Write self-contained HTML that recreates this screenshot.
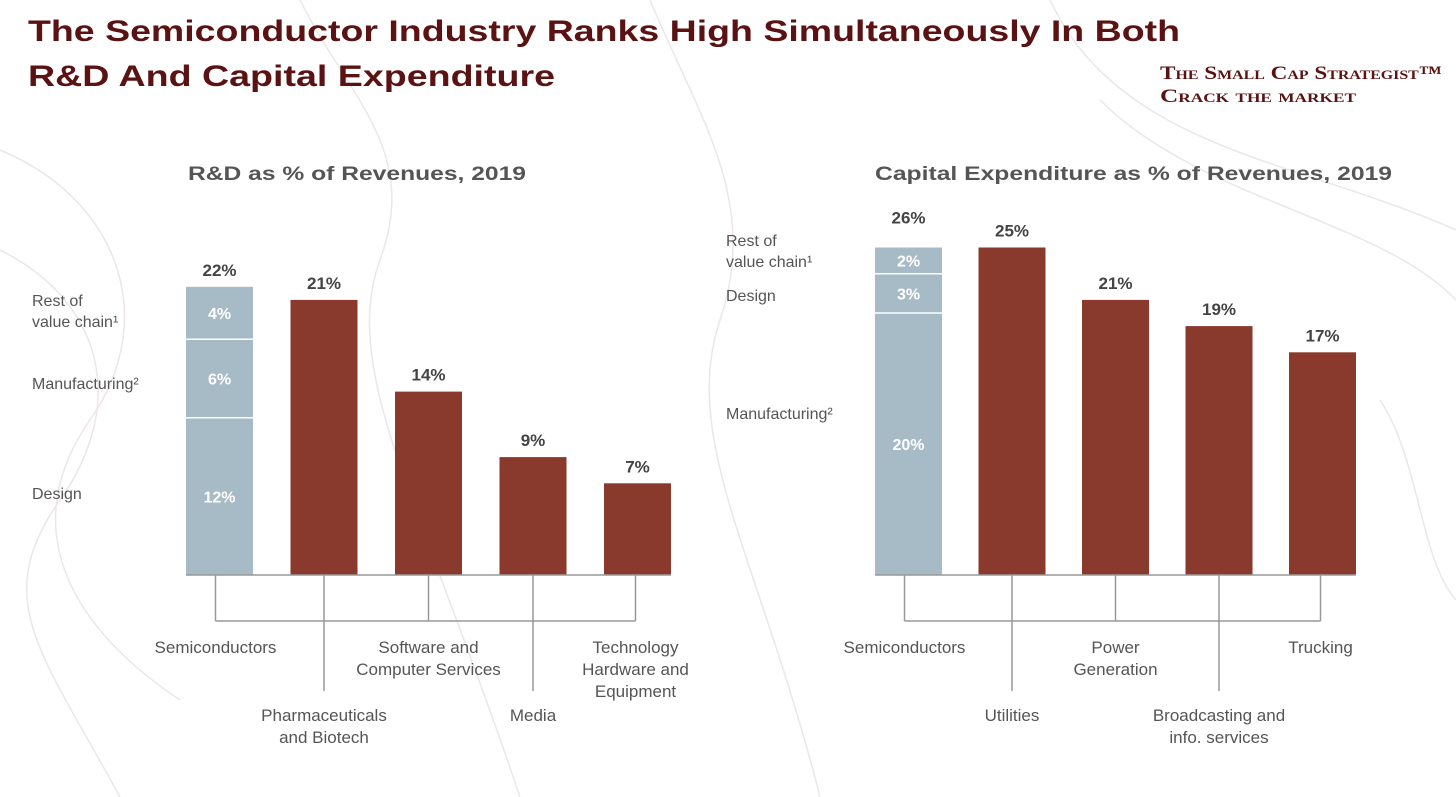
<!DOCTYPE html>
<html><head><meta charset="utf-8">
<style>
body{margin:0;width:1456px;height:797px;background:#fff;overflow:hidden;font-family:"Liberation Sans",sans-serif;}
svg{position:absolute;left:0;top:0}
</style></head>
<body>
<svg width="1456" height="797">
<g fill="none" stroke="#ece6e8" stroke-width="1.5">
<path d="M0 150 C120 200 160 320 90 420 S60 620 180 700"/>
<path d="M0 250 C100 300 130 400 60 500 S40 650 120 797"/>
<path d="M300 0 C350 100 420 150 380 260 S420 500 520 797"/>
<path d="M650 0 C700 120 760 200 720 320 S760 560 820 797"/>
<path d="M1100 100 C1200 200 1380 220 1456 300"/>
<path d="M1050 0 C1120 150 1300 160 1456 230"/>
<path d="M1380 400 C1420 460 1420 560 1456 600"/>
</g>
<text x="28" y="41" font-size="30" font-weight="bold" fill="#5a1212" textLength="1152" lengthAdjust="spacingAndGlyphs">The Semiconductor Industry Ranks High Simultaneously In Both</text>
<text x="28" y="86" font-size="30" font-weight="bold" fill="#5a1212" textLength="527" lengthAdjust="spacingAndGlyphs">R&amp;D And Capital Expenditure</text>
<text x="1160" y="79" font-family="Liberation Serif,serif" font-size="19" font-weight="bold" fill="#5a1212" style="font-variant:small-caps" textLength="282" lengthAdjust="spacingAndGlyphs">The Small Cap Strategist™</text>
<text x="1160" y="102" font-family="Liberation Serif,serif" font-size="19" font-weight="bold" fill="#5a1212" style="font-variant:small-caps" textLength="196" lengthAdjust="spacingAndGlyphs">Crack the market</text>
<text x="188" y="180" font-size="19" font-weight="bold" fill="#555" textLength="338" lengthAdjust="spacingAndGlyphs">R&amp;D as % of Revenues, 2019</text>
<text x="875" y="180" font-size="19" font-weight="bold" fill="#555" textLength="517" lengthAdjust="spacingAndGlyphs">Capital Expenditure as % of Revenues, 2019</text>
<g id="left"></g><g id="right"></g>
</svg>
<script>
const rdCategories=["Semiconductors","Pharmaceuticals|and Biotech","Software and|Computer Services","Media","Technology|Hardware and|Equipment"];
const rdValues=[22,21,14,9,7];
const rdSegValues=[12,6,4];
const rdSegLabels=["Design","Manufacturing²","Rest of|value chain¹"];
const capexCategories=["Semiconductors","Utilities","Power|Generation","Broadcasting and|info. services","Trucking"];
const capexValues=[26,25,21,19,17];
const capexSegValues=[20,3,2];
const capexSegLabels=["Manufacturing²","Design","Rest of|value chain¹"];
const NS="http://www.w3.org/2000/svg";
function mk(parent,tag,attrs,text){const e=document.createElementNS(NS,tag);for(const k in attrs)e.setAttribute(k,attrs[k]);if(text!==undefined)e.textContent=text;parent.appendChild(e);return e;}
function lines(parent,x,y,str,anchor,size,lh,fill,name){
  str.split("|").forEach((s,i)=>{const t=mk(parent,"text",{x:x,y:y+i*lh,"text-anchor":anchor,"font-size":size,fill:fill},s);
  
  });
}
function draw(g,cats,vals,segs,segLabels,labelYs,x0,step,bw,yScale,labelX,prefix){
  const base=575;
  const y=v=>base-v*yScale;
  const xs=cats.map((c,i)=>x0+i*step);
  const centers=xs.map(x=>x+bw/2);
  vals.forEach((v,i)=>{
    if(i===0){
      let acc=0;
      segs.forEach((s,j)=>{
        const top=y(acc+s),bot=y(acc);
        const r=mk(g,"rect",{x:xs[i],y:top,width:bw,height:bot-top,fill:"#a7bbc7"});
        
        
        if(j>0){const l=mk(g,"line",{x1:xs[i],x2:xs[i]+bw,y1:bot,y2:bot,stroke:"#fff","stroke-width":1.5});
          
          }
        const t=mk(g,"text",{x:centers[i],y:(top+bot)/2+6,"text-anchor":"middle","font-size":16,"font-weight":"bold",fill:"#fff"},s+"%");
        
        
        lines(g,labelX,labelYs[j],segLabels[j],"start",16,21,"#555",prefix+'-segment-label');
        acc+=s;
      });
    }else{
      const r=mk(g,"rect",{x:xs[i],y:y(v),width:bw,height:base-y(v),fill:"#8a3a2c"});
      
      
    }
    const t=mk(g,"text",{x:centers[i],y:y(v)-11,"text-anchor":"middle","font-size":17,"font-weight":"bold",fill:"#444"},v+"%");
    
    
  });
  const ax=mk(g,"line",{x1:xs[0],x2:xs[xs.length-1]+bw,y1:base,y2:base,stroke:"#999","stroke-width":1.5});
  
  
  const h=mk(g,"line",{x1:centers[0]-4,x2:centers[centers.length-1]-2,y1:621,y2:621,stroke:"#999","stroke-width":1.5});
  
  
  cats.forEach((c,i)=>{
    const cx=centers[i]+(i===0?-4:(i===cats.length-1?-2:0));
    const long=i%2===1;
    const l=mk(g,"line",{x1:cx,x2:cx,y1:base,y2:long?691:621,stroke:"#999","stroke-width":1.5});
    
    
    lines(g,cx,long?721:653,c,"middle",17,22,"#555",prefix+'-category-label');
  });
}
draw(document.getElementById("left"),rdCategories,rdValues,rdSegValues,rdSegLabels,[499,389,306],186,104.5,67,13.1,32,"rd");
draw(document.getElementById("right"),capexCategories,capexValues,capexSegValues,capexSegLabels,[419,301,246],875,103.5,67,13.1,726,"capex");
</script>
</body></html>
